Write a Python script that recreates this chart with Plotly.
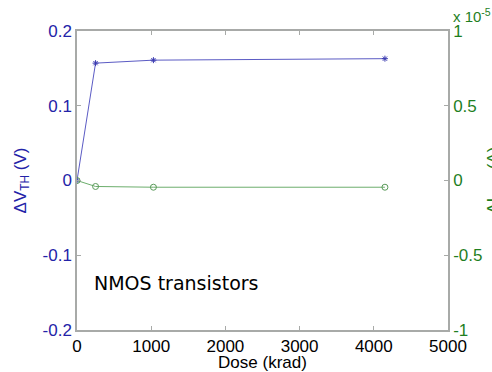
import plotly.graph_objects as go

dose = [0, 250, 1030, 4150]
dvth = [0.0, 0.157, 0.161, 0.163]
dileak = [0.0, -0.04e-5, -0.045e-5, -0.045e-5]

x_ticks = [0, 1000, 2000, 3000, 4000, 5000]
left_ticks = [-0.2, -0.1, 0, 0.1, 0.2]
left_ticktext = ["-0.2", "-0.1", "0", "0.1", "0.2"]
right_ticks = [-1e-5, -0.5e-5, 0, 0.5e-5, 1e-5]
right_ticktext = ["-1", "-0.5", "0", "0.5", "1"]

BLUE = "#2323a8"
GREEN = "#1f7f1f"
AXC = "#a8aaa8"
FF = "Liberation Sans"

fig = go.Figure()
fig.add_trace(go.Scatter(
    x=dose, y=dvth, mode="lines+markers",
    line=dict(color="#5b5bc4", width=1),
    marker=dict(symbol="asterisk-open", size=5, color="#3a3ab0", line=dict(width=1, color="#3a3ab0")),
    yaxis="y", showlegend=False))
fig.add_trace(go.Scatter(
    x=dose, y=dileak, mode="lines+markers",
    line=dict(color="#6cae6c", width=1),
    marker=dict(symbol="circle-open", size=6, color="#5a9a5a", line=dict(width=1)),
    yaxis="y2", showlegend=False))

fig.update_layout(
    width=492, height=372,
    margin=dict(l=77, r=44, t=31, b=42),
    paper_bgcolor="white", plot_bgcolor="white",
    xaxis=dict(range=[0, 5000], tickvals=x_ticks, ticks="inside", ticklen=4,
               tickcolor=AXC, showline=True, linecolor=AXC, linewidth=1.5, mirror="ticks",
               showgrid=False, zeroline=False, automargin=False,
               tickfont=dict(family=FF, size=17, color="black"),
               title=dict(text="Dose (krad)", standoff=0,
                          font=dict(family=FF, size=17, color="black"))),
    yaxis=dict(range=[-0.2, 0.2], tickvals=left_ticks, ticktext=left_ticktext,
               ticks="inside", ticklen=4, tickcolor=AXC,
               showline=True, linecolor=AXC, linewidth=1.5,
               showgrid=False, zeroline=False, automargin=False,
               tickfont=dict(family=FF, size=17, color=BLUE),
               title=dict(text="ΔV<sub>TH</sub> (V)", standoff=12,
                          font=dict(family=FF, size=17, color=BLUE))),
    yaxis2=dict(range=[-1e-5, 1e-5], tickvals=right_ticks, ticktext=right_ticktext,
                overlaying="y", side="right", anchor="x",
                ticks="inside", ticklen=4, tickcolor=AXC,
                showline=True, linecolor=AXC, linewidth=1.5,
                showgrid=False, zeroline=False, automargin=False,
                tickfont=dict(family=FF, size=17, color=GREEN)),
    annotations=[
        dict(x=200, y=-0.137, xref="x", yref="y", text="NMOS transistors", showarrow=False,
             xanchor="left", yanchor="middle",
             font=dict(family="DejaVu Sans", size=19, color="black")),
        dict(x=1.008, y=1.0, xref="paper", yref="paper", text="x 10<sup>-5</sup>",
             showarrow=False, xanchor="left", yanchor="bottom", yshift=4,
             font=dict(family=FF, size=15, color=GREEN)),
        # right-axis title, partly beyond the right edge as in the reference
        dict(x=1.09, y=0.5, xref="paper", yref="paper", text="ΔI<sub>OFF</sub> (A)",
             textangle=-90, showarrow=False, xanchor="left", yanchor="middle",
             font=dict(family=FF, size=17, color=GREEN)),
    ],
)

fig.write_html("out.html", config={"displayModeBar": False},
               post_script="document.body.style.margin='0';")
